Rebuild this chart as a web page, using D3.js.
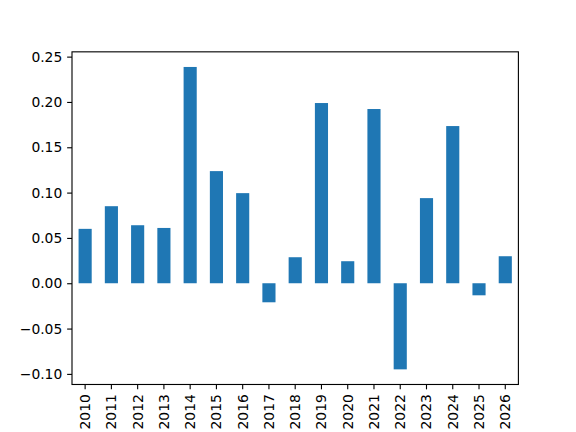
<!DOCTYPE html>
<head>
<meta charset="utf-8">
<style>
  body { margin: 0; background: #fff; }
  svg text { font-family: "DejaVu Sans", sans-serif; }
</style>
</head>
<body>
<svg width="576" height="432"></svg>
<script src="https://d3js.org/d3.v7.min.js"></script>
<script>

// values
var years = ["2010", "2011", "2012", "2013", "2014", "2015", "2016", "2017", "2018",
             "2019", "2020", "2021", "2022", "2023", "2024", "2025", "2026"];
var values = [0.060, 0.085, 0.064, 0.061, 0.2386, 0.1237, 0.0994, -0.021, 0.0287,
              0.1988, 0.0243, 0.1922, -0.095, 0.0939, 0.1734, -0.0133, 0.0298];
var yTicks = [-0.10, -0.05, 0.00, 0.05, 0.10, 0.15, 0.20, 0.25];

var svg = d3.select("svg"),
    axLeft = 72, axRight = 518.4, axTop = 51.84, axBottom = 384.48,
    pt = 100 / 72;   // figure drawn at 100 dpi

var x = d3.scaleBand()
    .domain(years)
    .range([axLeft, axRight])
    .paddingInner(0.5)
    .paddingOuter(0.25);

// matplotlib style 5% margins
var lo = d3.min(values), hi = d3.max(values), pad = (hi - lo) * 0.05;
var y = d3.scaleLinear()
    .domain([lo - pad, hi + pad])
    .range([axBottom, axTop]);

svg.append("g")
  .selectAll("rect")
  .data(values)
  .enter().append("rect")
    .attr("x", function(d, i) { return x(years[i]); })
    .attr("width", x.bandwidth())
    .attr("y", function(d) { return y(Math.max(0, d)); })
    .attr("height", function(d) { return Math.abs(y(d) - y(0)); })
    .attr("fill", "#1f77b4");

var yAxis = svg.append("g")
    .attr("transform", "translate(" + axLeft + ",0)")
    .call(d3.axisLeft(y).tickValues(yTicks).tickFormat(d3.format(".2f"))
      .tickSize(3.5 * pt).tickPadding(3.5 * pt));

var xAxis = svg.append("g")
    .attr("transform", "translate(0," + axBottom + ")")
    .call(d3.axisBottom(x).tickSize(3.5 * pt).tickPadding(3.5 * pt));

xAxis.selectAll("text")
    .attr("y", 0)
    .attr("x", 0)
    .attr("dy", null)
    .attr("dominant-baseline", "central")
    .attr("text-anchor", "end")
    .attr("transform", "translate(0," + (7 * pt) + ") rotate(-90)");

[xAxis, yAxis].forEach(function(g) {
  g.attr("font-family", null);
  g.select(".domain").remove();
  g.selectAll("line").attr("stroke", "#000").attr("stroke-width", 0.8 * pt);
  g.selectAll("text").attr("fill", "#000").style("font-size", (10 * pt) + "px");
});

// frame
svg.append("rect")
    .attr("x", axLeft)
    .attr("y", axTop)
    .attr("width", axRight - axLeft)
    .attr("height", axBottom - axTop)
    .attr("fill", "none")
    .attr("stroke", "#000")
    .attr("stroke-width", 0.8 * pt);

</script>
</body>
